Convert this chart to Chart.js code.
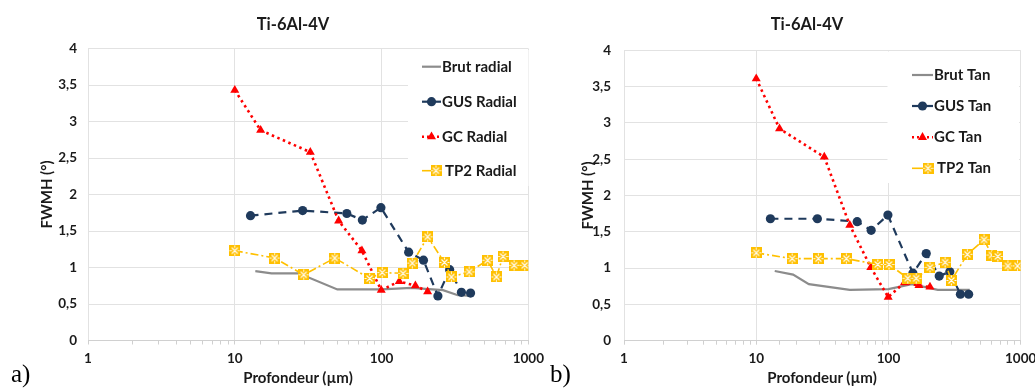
<!DOCTYPE html>
<html><head><meta charset="utf-8">
<script src="https://cdn.jsdelivr.net/npm/chart.js@4.4.1/dist/chart.umd.min.js"></script>
<style>
html,body{margin:0;padding:0;background:#fff;overflow:hidden;width:1035px;height:388px;position:relative;}
canvas{position:absolute;top:0;}
.t{position:absolute;font-family:Lato,'Open Sans',sans-serif;font-weight:bold;color:#1a1a1a;white-space:nowrap;transform:translate(-50%,-50%);}
.lbl{position:absolute;font-family:'Liberation Serif','DejaVu Serif',serif;font-size:25px;line-height:24px;color:#000;}
</style></head><body>
<canvas id="c1" width="550" height="388" style="left:0"></canvas>
<canvas id="c2" width="510" height="388" style="left:548px"></canvas>
<div class="t" style="left:293px;top:24px;font-size:16.5px">Ti-6Al-4V</div>
<div class="t" style="left:807px;top:24px;font-size:16.5px">Ti-6Al-4V</div>
<div class="t" style="left:298px;top:377px;font-size:15px">Profondeur (µm)</div>
<div class="t" style="left:822px;top:377px;font-size:15px">Profondeur (µm)</div>
<div class="lbl" style="left:11px;top:362px">a)</div>
<div class="lbl" style="left:550px;top:362px">b)</div>
<script>
// ---- data (depth in µm, FWMH in degrees) ----
const xTickLabels = [1, 10, 100, 1000];
const yTickStep = 0.5;

const depthBrutRadial = [13.8, 17.8, 27.2, 50, 100, 160, 262, 331, 417];
const brutRadial      = [0.95, 0.92, 0.92, 0.70, 0.70, 0.72, 0.69, 0.62, 0.61];
const depthBrutTan    = [13.8, 19, 25, 51, 100, 150, 236, 412];
const brutTan         = [0.96, 0.91, 0.78, 0.70, 0.71, 0.78, 0.70, 0.70];

const depthGUS  = [12.8, 29, 58, 74, 99, 153, 193, 242, 291, 350, 404];
const gusRadial = [1.71, 1.78, 1.74, 1.65, 1.82, 1.21, 1.10, 0.61, 0.97, 0.66, 0.65];
const gusTan    = [1.68, 1.68, 1.64, 1.52, 1.73, 0.93, 1.20, 0.89, 0.95, 0.64, 0.64];

const depthGC  = [10, 15, 32.7, 51, 73.5, 99.5, 132, 170, 206];
const gcRadial = [3.43, 2.88, 2.58, 1.64, 1.23, 0.69, 0.81, 0.75, 0.67];
const gcTan    = [3.61, 2.92, 2.53, 1.59, 1.01, 0.60, 0.80, 0.76, 0.74];

const depthTP2  = [10, 18.7, 29.5, 48, 83, 101, 140, 162, 206, 268, 299, 395, 528, 606, 672, 800, 945];
const tp2Radial = [1.23, 1.13, 0.90, 1.13, 0.85, 0.93, 0.92, 1.06, 1.42, 1.07, 0.87, 0.94, 1.10, 0.87, 1.15, 1.03, 1.03];
const tp2Tan    = [1.21, 1.13, 1.13, 1.13, 1.05, 1.05, 0.86, 0.86, 1.01, 1.08, 0.83, 1.19, 1.39, 1.18, 1.16, 1.03, 1.03];

const labelsRadial = ['Brut radial', 'GUS Radial', 'GC Radial', 'TP2 Radial'];
const labelsTan    = ['Brut Tan', 'GUS Tan', 'GC Tan', 'TP2 Tan'];

// ---- styles ----
const FONT = "Lato, 'Open Sans', sans-serif";
const TXT = '#1a1a1a';
const GRID = '#e2e2e2';
const NAVY = '#1f3a5c';
const RED = '#ff0000';
const GOLD = '#ffc000';
const GRAY = '#8c8c8c';

function tp2Marker(){
  const c = document.createElement('canvas'); c.width = 11; c.height = 11;
  const g = c.getContext('2d');
  g.fillStyle = GOLD; g.fillRect(0,0,11,11);
  g.strokeStyle = '#ffffff'; g.lineWidth = 1.1;
  g.beginPath();
  g.moveTo(2.5,2.5); g.lineTo(8.5,8.5);
  g.moveTo(8.5,2.5); g.lineTo(2.5,8.5);
  g.moveTo(5.5,0.5); g.lineTo(5.5,2.5);
  g.moveTo(5.5,8.5); g.lineTo(5.5,10.5);
  g.moveTo(0.5,5.5); g.lineTo(2.5,5.5);
  g.moveTo(8.5,5.5); g.lineTo(10.5,5.5);
  g.stroke();
  return c;
}
const TP2IMG = tp2Marker();

function pts(xs, ys){ return xs.map((x,i)=>({x:x, y:ys[i]})); }
function isDecade(v){ const l = Math.log10(v); return Math.abs(l - Math.round(l)) < 1e-9; }

function makeDatasets(labels, brutX, brut, gus, gc, tp2){
  return [
    {label:labels[0], data:pts(brutX, brut), borderColor:GRAY, backgroundColor:GRAY, borderWidth:2.2, pointRadius:0, order:4, mk:'none'},
    {label:labels[1], data:pts(depthGUS, gus), borderColor:NAVY, backgroundColor:NAVY, borderWidth:2.2, borderDash:[8,6], pointStyle:'circle', pointRadius:4.6, pointBorderWidth:0, order:3, mk:'circle'},
    {label:labels[2], data:pts(depthGC, gc), borderColor:RED, backgroundColor:RED, borderWidth:2.6, borderDash:[2.5,3.5], pointStyle:'triangle', pointRadius:5.2, pointBorderWidth:0, order:2, mk:'triangle'},
    {label:labels[3], data:pts(depthTP2, tp2), borderColor:GOLD, backgroundColor:GOLD, borderWidth:1.6, borderDash:[8,3,2,3], pointStyle:TP2IMG, pointRadius:5.5, order:1, mk:'img'}
  ];
}

function drawMarker(ctx, ds, x, y){
  ctx.save();
  ctx.fillStyle = ds.backgroundColor;
  if (ds.mk === 'circle'){ ctx.beginPath(); ctx.arc(x,y,4.6,0,Math.PI*2); ctx.fill(); }
  else if (ds.mk === 'triangle'){
    const r = 5.2; ctx.beginPath();
    ctx.moveTo(x, y - r); ctx.lineTo(x + r*0.866, y + r*0.5); ctx.lineTo(x - r*0.866, y + r*0.5);
    ctx.closePath(); ctx.fill();
  } else if (ds.mk === 'img'){ ctx.drawImage(TP2IMG, x - 5.5, y - 5.5); }
  ctx.restore();
}

const legendPlugin = {
  id: 'fwmhLegend',
  afterDraw(chart, args, o){
    const ctx = chart.ctx; ctx.save();
    ctx.fillStyle = '#ffffff';
    ctx.fillRect(o.box[0], o.box[1], o.box[2]-o.box[0], o.box[3]-o.box[1]);
    chart.data.datasets.forEach((ds, i) => {
      const y = o.ys[i], x0 = o.x, x1 = o.x + o.len;
      ctx.save();
      ctx.strokeStyle = ds.borderColor; ctx.lineWidth = ds.borderWidth;
      ctx.setLineDash(ds.mk === 'triangle' ? [2,3] : []);
      ctx.beginPath(); ctx.moveTo(x0, y); ctx.lineTo(x1, y); ctx.stroke();
      ctx.restore();
      const mx = ds.mk === 'img' ? x1 - 5 : (x0 + x1) / 2;
      drawMarker(ctx, ds, mx, y);
      ctx.fillStyle = TXT; ctx.font = 'bold 15px ' + FONT;
      ctx.textBaseline = 'middle'; ctx.textAlign = 'left';
      ctx.fillText(ds.label, x1 + (ds.mk === 'img' ? 4 : 1), y);
    });
    ctx.restore();
  }
};

function makeOptions(cfg){
  return {
    responsive: false, animation: false,
    layout: {padding: {left: 0, right: cfg.padRight, top: cfg.padTop, bottom: 0}},
    plugins: {legend: {display: false}, tooltip: {enabled: false}, title: {display: false},
      fwmhLegend: cfg.legend},
    scales: {
      x: {
        type: 'logarithmic', min: 1, max: 1000,
        grid: {color: (c) => (c.tick && isDecade(c.tick.value)) ? GRID : 'rgba(0,0,0,0)', tickColor: '#d0d0d0', tickLength: 4},
        border: {display: true, color: '#d0d0d0'},
        ticks: {autoSkip: false, maxRotation: 0, minRotation: 0, padding: 6, color: TXT,
          font: {family: FONT, size: 13.5, weight: 'bold'},
          callback: (v) => xTickLabels.includes(Number(v)) ? String(v) : ''},
        afterFit: (s) => { s.height = cfg.xH; }
      },
      y: {
        min: 0, max: 4,
        grid: {color: GRID, drawTicks: false},
        border: {display: false},
        ticks: {stepSize: yTickStep, padding: cfg.yPad, color: TXT,
          font: {family: FONT, size: 13.5, weight: 'bold'},
          callback: (v) => String(v).replace('.', ',')},
        title: {display: true, text: 'FWMH (°)', color: TXT, font: {family: FONT, size: 15, weight: 'bold'},
          padding: {top: cfg.yTitlePad, bottom: 0}},
        afterFit: (s) => { s.width = cfg.yW; }
      }
    }
  };
}

new Chart(document.getElementById('c1'), {
  type: 'line',
  data: {datasets: makeDatasets(labelsRadial, depthBrutRadial, brutRadial, gusRadial, gcRadial, tp2Radial)},
  options: makeOptions({padRight: 20, padTop: 48.5, xH: 47.5, yW: 88, yPad: 11, yTitlePad: 38, 
    legend: {box: [408, 50, 528.5, 186], x: 422, len: 19, ys: [66.7, 101.7, 136.7, 170.7]}}),
  plugins: [legendPlugin]
});

new Chart(document.getElementById('c2'), {
  type: 'line',
  data: {datasets: makeDatasets(labelsTan, depthBrutTan, brutTan, gusTan, gcTan, tp2Tan)},
  options: makeOptions({padRight: 37.3, padTop: 50.3, xH: 47.3, yW: 76, yPad: 13, yTitlePad: 31.5,
    legend: {box: [339.5, 51.5, 471, 183], x: 364, len: 21, ys: [75, 106, 137.3, 168.3]}}),
  plugins: [legendPlugin]
});
</script>
</body></html>
